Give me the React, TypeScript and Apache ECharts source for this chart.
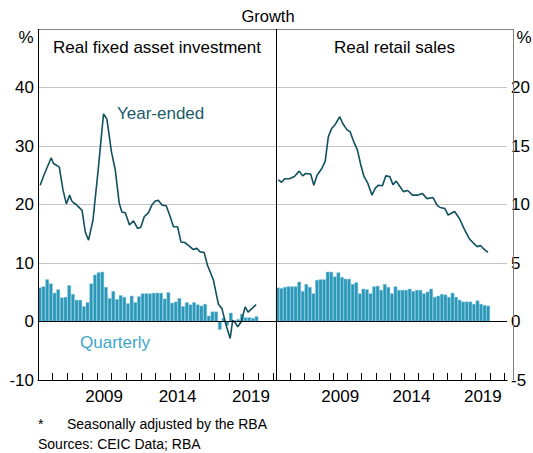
import React, { useEffect, useRef } from 'react';
import * as echarts from 'echarts';

const START_YEAR = 2005;
const yearTicks = [2006, 2007, 2008, 2009, 2010, 2011, 2012, 2013, 2014, 2015, 2016, 2017, 2018, 2019, 2020, 2021];
const yearLabels = [2009, 2014, 2019];

// Quarterly growth, 2005 Q1 .. 2019 Q4
const faiQuarterly = [
  5.8, 6.0, 7.2, 6.5, 4.9, 5.5, 4.1, 4.2, 6.2, 4.7,
  3.7, 3.7, 2.6, 3.3, 6.5, 8.0, 8.4, 8.5, 5.9, 4.0,
  5.2, 3.8, 4.5, 4.2, 3.1, 4.4, 3.3, 4.3, 4.8, 4.8,
  4.8, 4.9, 4.9, 4.9, 3.9, 5.0, 3.2, 3.4, 4.0, 2.6,
  3.3, 2.9, 3.3, 2.9, 2.7, 3.0, 1.0, 1.7, 1.7, -1.4,
  0.6, -0.7, 1.5, 0.2, 0.4, 1.3, 0.7, 0.7, 0.6, 0.9,
];
const retailQuarterly = [
  2.9, 2.85, 2.95, 3.0, 3.0, 3.0, 3.4, 2.6, 3.2, 2.95,
  2.4, 3.55, 3.6, 3.6, 4.25, 4.25, 3.85, 4.2, 3.8, 3.65,
  3.65, 3.2, 3.35, 2.4, 2.8, 2.75, 2.4, 3.0, 3.05, 2.7,
  3.2, 2.95, 2.4, 3.0, 2.7, 2.7, 2.7, 2.8, 2.6, 2.7,
  2.7, 2.4, 2.55, 2.8, 2.1, 2.2, 2.35, 2.3, 2.1, 2.45,
  2.1, 1.85, 1.7, 1.7, 1.7, 1.5, 1.8, 1.5, 1.4, 1.35,
];

// Year-ended growth: [date, %]
const faiYearEnded: [number, number][] = [
  [2005.15, 23.3], [2005.4, 25.0], [2005.65, 26.5], [2005.9, 28.0], [2006.05, 27.0],
  [2006.2, 26.8], [2006.45, 26.4], [2006.7, 22.5], [2006.93, 20.1], [2007.15, 21.6],
  [2007.3, 20.6], [2007.42, 20.3], [2007.6, 20.0], [2007.76, 19.6], [2008.0, 19.0],
  [2008.22, 15.3], [2008.44, 13.9], [2008.74, 17.3], [2009.1, 26.0], [2009.46, 35.5],
  [2009.69, 34.6], [2010.0, 29.0], [2010.26, 25.9], [2010.53, 20.2], [2010.71, 18.7],
  [2010.94, 18.6], [2011.23, 16.5], [2011.5, 17.2], [2011.78, 15.9], [2012.0, 16.1],
  [2012.23, 17.9], [2012.52, 18.6], [2012.75, 19.9], [2012.98, 20.6], [2013.2, 20.7],
  [2013.44, 19.9], [2013.73, 19.8], [2014.0, 17.9], [2014.22, 16.2], [2014.5, 16.2],
  [2014.73, 13.6], [2015.0, 13.5], [2015.3, 12.9], [2015.57, 12.3], [2015.8, 12.5],
  [2016.04, 11.9], [2016.31, 11.8], [2016.54, 9.6], [2016.75, 8.3], [2016.95, 7.0],
  [2017.15, 4.5], [2017.29, 2.9], [2017.52, 2.2], [2017.81, -0.7], [2018.08, -2.9],
  [2018.25, 0.2], [2018.45, -0.3], [2018.6, -0.9], [2018.85, 0.05], [2019.1, 2.5],
  [2019.3, 1.6], [2019.85, 2.9],
];
const retailYearEnded: [number, number][] = [
  [2005.16, 12.1], [2005.39, 11.9], [2005.61, 12.2], [2005.95, 12.2], [2006.29, 12.4],
  [2006.63, 12.85], [2006.86, 12.45], [2007.09, 12.65], [2007.43, 12.6], [2007.65, 11.65],
  [2007.88, 12.5], [2008.22, 13.1], [2008.45, 13.7], [2008.67, 15.8], [2008.9, 16.5],
  [2009.13, 16.8], [2009.47, 17.5], [2009.69, 16.9], [2009.97, 16.4], [2010.2, 16.2],
  [2010.44, 15.4], [2010.71, 14.65], [2010.94, 13.4], [2011.17, 12.4], [2011.44, 11.8],
  [2011.73, 10.8], [2011.96, 11.4], [2012.19, 11.65], [2012.46, 11.6], [2012.7, 12.45],
  [2012.97, 12.4], [2013.2, 11.7], [2013.43, 12.0], [2013.65, 11.6], [2013.93, 11.1],
  [2014.23, 11.2], [2014.57, 10.8], [2014.91, 10.8], [2015.25, 10.95], [2015.59, 10.5],
  [2016.0, 10.6], [2016.31, 9.9], [2016.5, 9.75], [2016.84, 9.65], [2017.07, 9.1],
  [2017.52, 9.4], [2017.86, 8.8], [2018.2, 7.9], [2018.54, 7.1], [2018.88, 6.65],
  [2019.1, 6.4], [2019.34, 6.5], [2019.56, 6.2], [2019.86, 5.9],
];

const FONT = '"Liberation Sans", Arial, sans-serif';
const BAR = '#2b97b8';
const LINE = '#11505f';

const quarterPoints = (vals: number[]) => vals.map((v, i) => [START_YEAR + (i + 0.5) / 4, v]);

export default function App() {
  const ref = useRef<HTMLDivElement>(null);
  useEffect(() => {
    document.body.style.margin = '0';
    const chart = echarts.init(ref.current!, null, { renderer: 'svg' });

    const xAxis = (gi: number) => ({
      type: 'value', gridIndex: gi, min: 2005, max: 2021.2,
      axisLine: { show: true, onZero: false, lineStyle: { color: '#000', width: 1 } },
      axisTick: { show: true, inside: true, length: 7, customValues: yearTicks, lineStyle: { color: '#000', width: 1 } },
      axisLabel: {
        show: true, customValues: yearLabels.map((y) => y + 0.5),
        formatter: (v: number) => String(Math.floor(v)),
        color: '#000', fontSize: 17, fontFamily: FONT, margin: 8,
      },
      splitLine: { show: false },
    });
    const yAxis = (gi: number, min: number, max: number, interval: number, position: string) => ({
      type: 'value', gridIndex: gi, min, max, interval, position,
      axisLine: { show: false }, axisTick: { show: false },
      axisLabel: {
        formatter: (v: number) => (v === max ? '' : String(v)),
        color: '#000', fontSize: 17, fontFamily: FONT, margin: 4,
      },
      splitLine: { show: true, lineStyle: { color: '#c6c6c6', width: 1 } },
    });
    const zeroLine = (gi: number) => ({
      type: 'line', xAxisIndex: gi, yAxisIndex: gi, data: [[2005, 0]], showSymbol: false,
      lineStyle: { opacity: 0 }, z: 1, silent: true,
      markLine: {
        silent: true, symbol: 'none', label: { show: false },
        lineStyle: { color: '#000', width: 1, type: 'solid' },
        data: [{ yAxis: 0 }],
      },
    });
    const bars = (gi: number, vals: number[]) => ({
      type: 'bar', xAxisIndex: gi, yAxisIndex: gi, data: quarterPoints(vals),
      barWidth: 3.67, z: 2,
      itemStyle: { color: BAR, borderColor: '#86c8dc', borderWidth: 0.5 },
    });
    const line = (gi: number, pts: [number, number][]) => ({
      type: 'line', xAxisIndex: gi, yAxisIndex: gi, data: pts, showSymbol: false, z: 3,
      lineStyle: { color: LINE, width: 1.6 },
    });
    const txt = (text: string, x: number, y: number, opts: any = {}) => ({
      type: 'text', x, y, z: 100,
      style: {
        text, fill: opts.fill || '#000', fontSize: opts.fontSize || 17, fontFamily: FONT,
        align: opts.align || 'left', verticalAlign: 'middle',
      },
    });
    const ln = (x1: number, y1: number, x2: number, y2: number, color: string) => ({
      type: 'line', z: 90, shape: { x1, y1, x2, y2 }, style: { stroke: color, lineWidth: 1 },
    });

    chart.setOption({
      animation: false,
      grid: [
        { left: 38, top: 29, width: 238, height: 351 },
        { left: 276, top: 29, width: 237, height: 351 },
      ],
      xAxis: [xAxis(0), xAxis(1)],
      yAxis: [yAxis(0, -10, 50, 10, 'left'), yAxis(1, -5, 25, 5, 'right')],
      series: [
        zeroLine(0), zeroLine(1),
        bars(0, faiQuarterly), bars(1, retailQuarterly),
        line(0, faiYearEnded), line(1, retailYearEnded),
      ],
      graphic: [
        ln(38, 29.5, 513, 29.5, '#808080'),
        ln(513.5, 29, 513.5, 380, '#808080'),
        ln(38.5, 29, 38.5, 380, '#000'),
        ln(276.5, 29, 276.5, 380, '#000'),
        txt('Growth', 268, 16, { align: 'center', fontSize: 16.5 }),
        txt('%', 26, 37, { align: 'center', fontSize: 17 }),
        txt('%', 524, 37, { align: 'center', fontSize: 17 }),
        txt('Real fixed asset investment', 157, 47, { align: 'center' }),
        txt('Real retail sales', 394.5, 47, { align: 'center' }),
        txt('Year-ended', 117, 113, { fill: '#1b5a69' }),
        txt('Quarterly', 80, 342, { fill: '#3ea6c9' }),
        txt('*', 38, 424, { fontSize: 14 }),
        txt('Seasonally adjusted by the RBA', 67, 424, { fontSize: 14 }),
        txt('Sources: CEIC Data; RBA', 38, 444, { fontSize: 14 }),
      ],
    });
    return () => chart.dispose();
  }, []);
  return <div ref={ref} style={{ width: 533, height: 453 }} />;
}
